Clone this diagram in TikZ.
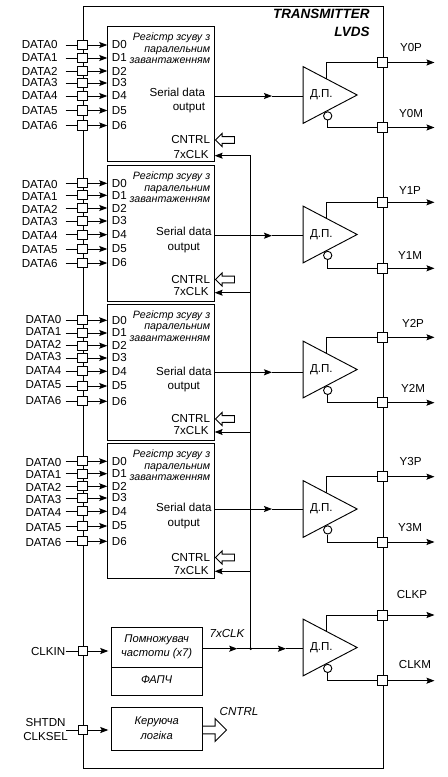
\documentclass[tikz,border=0pt]{standalone}
\usepackage{fontspec}
\setmainfont{Liberation Sans}
\usetikzlibrary{arrows.meta,shapes.geometric,shapes.arrows}
\begin{document}
\begin{tikzpicture}[
      x=0.75pt,y=-0.75pt,line width=0.7pt,
      every node/.style={font=\fontsize{8.7}{10.9}\selectfont,inner sep=0pt},
      arr/.style={-{Stealth[length=6pt,width=4.5pt,inset=1pt]}},
      pad/.style={draw,fill=white,minimum size=6.9pt},
      block/.style={draw,anchor=north west},
      ital/.style={font=\fontsize{8}{8.7}\itshape\selectfont},
      buffer/.style={draw,isosceles triangle,isosceles triangle stretches,minimum width=42.5pt,minimum height=40.5pt,anchor=lower side},
      bubble/.style={draw,fill=white,circle,minimum size=6.2pt},
      hollowsmall/.style={draw,fill=white,single arrow,shape border rotate=180,single arrow tip angle=90,single arrow head extend=2.4pt,inner ysep=2.2pt,minimum height=14.2pt,anchor=tip},
      hollowbig/.style={draw,fill=white,single arrow,single arrow tip angle=90,single arrow head extend=5.6pt,inner ysep=2.6pt,minimum height=18pt,anchor=tail}
    ]
    \useasboundingbox (0,0) rectangle (447,777);
    \node[draw,anchor=north west,minimum width=225.2pt,minimum height=571.3pt] (chip) at (82.5,6.5) {};
    \node[anchor=north east,align=right,font=\fontsize{10.1}{13.2}\bfseries\itshape\selectfont] (title) at (370,9) {TRANSMITTER\\LVDS};

    \foreach \nm/\cy/\py/\my/\lp/\xp/\yp/\lm/\xm/\ym in {
        0/95/62.5/127.5/Y0P/411/47.7/Y0M/411/114,
        1/234.5/202.3/268.3/Y1P/410/190.7/Y1M/410/255.7,
        2/369.5/337.3/402.7/Y2P/413/323/Y2M/413/388,
        3/509/476.7/542/Y3P/410.7/462/Y3M/410/528,
        4/647.5/615/680.7/CLKP/412/595/CLKM/415/664.7}{
      \node[buffer] (buf\nm) at (302.7,\cy) {Д.П.};
      \node[bubble] (bub\nm) at (327.7,\cy+20.9) {};
      \coordinate (up\nm) at (326.3,\cy-16);
      \node[pad,minimum size=7.5pt] (padp\nm) at (382.7,\py) {};
      \node[pad,minimum size=7.5pt] (padm\nm) at (382.7,\my) {};
      \coordinate (outp\nm) at (434.5,\py);
      \coordinate (outm\nm) at (434.5,\my);
      \draw (up\nm) |- (padp\nm.west);
      \draw (bub\nm.south) |- (padm\nm.west);
      \draw[arr] (padp\nm.east) -- (outp\nm);
      \draw[arr] (padm\nm.east) -- (outm\nm);
      \node (labp\nm) at (\xp,\yp) {\lp};
      \node (labm\nm) at (\xm,\ym) {\lm};
    }

    \foreach \n/\rt/\rb/\ser/\sy/\sx/\sal/\cn/\ck/\ds/\g/\rows in {
        0/26/161.5/96/100.5/205.5/right/140/155.7/0/5.8pt/{45,58,71,83,96,110.5,125.5},
        1/165/300.5/235.7/240/212/center/279.5/292.7/1/5.8pt/{183.3,195.3,208,221,234.7,249,263},
        2/303.5/439.5/372.3/379.5/212/center/419/432/-1/3pt/{320.3,333,345.7,358,371.3,386,401.3},
        3/443/578/509/516/212/center/557.5/571.3/1.2/3pt/{461.3,473.7,486.3,498,511.3,526,541.3}}{
      \node[block,minimum width=79.8pt,minimum height={(\rb-\rt)*0.75pt}] (reg\n) at (107.3,\rt) {};
      \node[ital,anchor=north east,align=right] (rtitle\n) at (210.7,\rt+6.5) {Регістр зсуву з\\паралельним\\завантаженням};
      \node[anchor=east,align=\sal] (sout\n) at (\sx,\sy) {Serial data\\output};
      \node[anchor=east] (lcn\n) at (210.5,\cn) {CNTRL};
      \node[anchor=east] (lck\n) at (209,\ck-1) {7xCLK};
      \node[hollowsmall] (hol\n) at (214.9,\cn) {};
      \coordinate (tap\n) at (250.7,\ck);
      \draw[arr] (tap\n) -- (reg\n.east |- tap\n);
      \coordinate (ser\n) at (272,\ser);
      \draw[arr] (reg\n.east |- ser\n) -- (ser\n);
      \draw (ser\n) -- (buf\n.lower side |- ser\n);
      \foreach \y [count=\i from 0] in \rows {
        \node[pad] (pad\n\i) at (82.5,\y) {};
        \node[anchor=east,inner xsep=\g] (dat\n\i) at (65.7,\y+\ds) {DATA\i};
        \node[anchor=west] (bit\n\i) at (111.5,\y) {D\i};
        \draw (dat\n\i.east |- pad\n\i.west) -- (pad\n\i.west);
        \draw[arr] (pad\n\i.east) -- (reg\n.west |- pad\n\i);
      }
    }

    \node[block,minimum width=68pt,minimum height=51pt] (pll) at (111.3,627) {};
    \coordinate (plldiv) at (111.3,667);
    \draw (plldiv) -- (pll.east |- plldiv);
    \node[ital,font=\fontsize{8.4}{10.5}\itshape\selectfont,align=center] (plltxt) at (156.7,646.3) {Помножувач\\частоти (x7)};
    \node[ital,font=\fontsize{8.4}{10.5}\itshape\selectfont] (pllname) at (156.7,680) {ФАПЧ};
    \node[block,minimum width=68pt,minimum height=32.3pt] (logic) at (111.3,707) {};
    \node[ital,font=\fontsize{8.4}{10.9}\itshape\selectfont,align=center] (logtxt) at (156.7,728) {Керуюча\\логіка};
    \node[hollowbig] (cntrl) at (202,730) {};
    \node[ital,font=\fontsize{8.7}{10.9}\itshape\selectfont] (lcntrl) at (239,711.7) {CNTRL};

    \node[pad,minimum size=7pt] (padclk) at (83,651) {};
    \node[anchor=east] (clkin) at (65.7,651) {CLKIN};
    \draw (clkin.east) -- (padclk.west);
    \draw[arr] (padclk.east) -- (108.3,651);
    \node[pad,minimum size=7pt] (padctl) at (83,730) {};
    \node[anchor=east,align=right] (ctl) at (68.3,729.5) {SHTDN\hspace*{1.7pt}\\CLKSEL};
    \coordinate (ctlin) at (66,730);
    \draw (ctlin) -- (padctl.west);
    \draw[arr] (padctl.east) -- (108.3,730);

    \node[circle,fill,minimum size=2.2pt] (jn) at (250.7,648.7) {};
    \draw (tap0) -- (jn.center);
    \coordinate (clkm1) at (237.3,648.7);
    \coordinate (clkm2) at (286,648.7);
    \draw[arr] (pll.east |- jn) -- (clkm1);
    \draw (clkm1) -- (jn.center);
    \draw[arr] (jn.center) -- (clkm2);
    \draw (clkm2) -- (buf4.lower side |- clkm2);
    \node[ital,font=\fontsize{8.7}{10.9}\itshape\selectfont] (l7x) at (227,633.3) {7xCLK};
  \end{tikzpicture}
\end{document}
